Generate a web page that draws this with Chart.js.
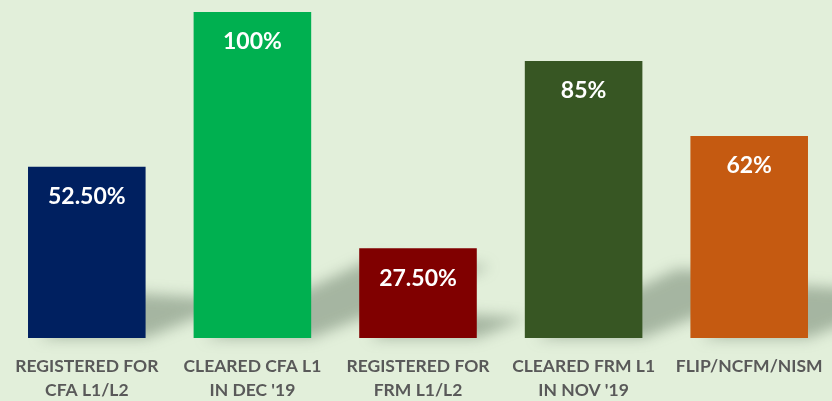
<!DOCTYPE html>
<html>
<head>
<meta charset="utf-8">
<script src="https://cdn.jsdelivr.net/npm/chart.js@4"></script>
<style>
  html, body { margin: 0; padding: 0; background: #e2efda; }
  #wrap { width: 832px; height: 401px; }
</style>
</head>
<body>
<div id="wrap"><canvas id="chart"></canvas></div>
<script>
const categories = [
    ['REGISTERED FOR', 'CFA L1/L2'],
    ['CLEARED CFA L1', "IN DEC '19"],
    ['REGISTERED FOR', 'FRM L1/L2'],
    ['CLEARED FRM L1', "IN NOV '19"],
    ['FLIP/NCFM/NISM']
];
const values = [52.5, 100, 27.5, 85, 62];
const valueLabels = ['52.50%', '100%', '27.50%', '85%', '62%'];
const barColors = ['#002060', '#00b050', '#800000', '#375623', '#c55a11'];

// soft perspective shadow behind each bar
const shadowPlugin = {
    id: 'barShadow',
    beforeDatasetsDraw(chart) {
        const ctx = chart.ctx;
        const meta = chart.getDatasetMeta(0);
        ctx.save();
        ctx.filter = 'blur(7px)';
        ctx.fillStyle = 'rgba(90, 110, 90, 0.45)';
        meta.data.forEach(function(bar) {
            const half = bar.width / 2;
            const h = bar.base - bar.y;
            const x1 = bar.x - half, x2 = bar.x + half;
            const dx = h * 0.55, dy = h * 0.22;
            ctx.beginPath();
            ctx.moveTo(x1 + 10, bar.base);
            ctx.lineTo(x2, bar.base);
            ctx.lineTo(x2 + dx, bar.base - dy);
            ctx.lineTo(x1 + dx, bar.base - dy - 8);
            ctx.closePath();
            ctx.fill();
        });
        ctx.restore();
    }
};

// value labels inside bar tops
const labelPlugin = {
    id: 'valueLabels',
    afterDatasetsDraw(chart) {
        const ctx = chart.ctx;
        const meta = chart.getDatasetMeta(0);
        ctx.save();
        ctx.fillStyle = '#ffffff';
        ctx.font = 'bold 23px Lato, "Open Sans", sans-serif';
        ctx.textAlign = 'center';
        ctx.textBaseline = 'middle';
        meta.data.forEach(function(bar, i) {
            ctx.fillText(valueLabels[i], bar.x, bar.y + 30);
        });
        ctx.restore();
    }
};

const ctx = document.getElementById('chart').getContext('2d');
new Chart(ctx, {
    type: 'bar',
    data: {
        labels: categories,
        datasets: [{
            data: values,
            backgroundColor: barColors,
            borderWidth: 0,
            categoryPercentage: 1.0,
            barPercentage: 0.71
        }]
    },
    options: {
        responsive: true,
        maintainAspectRatio: false,
        animation: false,
        layout: { padding: { left: 4, right: 0, top: 12, bottom: 0 } },
        plugins: {
            legend: { display: false },
            tooltip: { enabled: false },
            title: { display: false }
        },
        scales: {
            y: {
                display: false,
                min: 0,
                max: 100
            },
            x: {
                grid: { display: false },
                border: { display: false },
                afterFit: function(scale) {
                    scale.height = 63;
                    scale.paddingLeft = 0;
                    scale.paddingRight = 0;
                },
                ticks: {
                    color: '#595959',
                    font: { family: 'Lato, "Open Sans", sans-serif', size: 17.5, weight: 'bold', lineHeight: 1.38 },
                    padding: 8,
                    maxRotation: 0,
                    autoSkip: false
                }
            }
        }
    },
    plugins: [shadowPlugin, labelPlugin]
});
</script>
</body>
</html>
